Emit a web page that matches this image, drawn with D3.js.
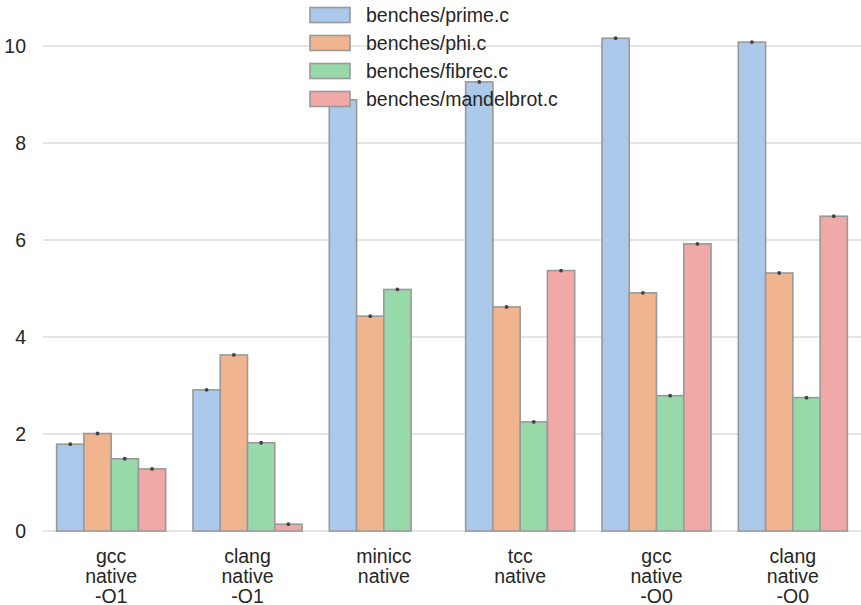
<!DOCTYPE html>
<html>
<head>
<meta charset="utf-8">
<script src="https://cdn.jsdelivr.net/npm/d3@7"></script>
<style>
  body { margin: 0; background: #fff; }
  text { font-family: "Liberation Sans", Arial, sans-serif; fill: #262626; }
</style>
</head>
<body>
<svg width="861" height="605"></svg>
<script>
// compilers / configs on the x axis
var groups = ["gcc\nnative\n-O1", "clang\nnative\n-O1", "minicc\nnative", "tcc\nnative", "gcc\nnative\n-O0", "clang\nnative\n-O0"];
var benches = ["benches/prime.c", "benches/phi.c", "benches/fibrec.c", "benches/mandelbrot.c"];
var colors = ["#abc9eb", "#f0b48e", "#97d9a8", "#f0a9a7"];

// runtime per bench, one value per group (null = missing)
var prime      = [1.79, 2.91, 8.89, 9.26, 10.16, 10.08];
var phi        = [2.01, 3.63, 4.43, 4.62, 4.91, 5.32];
var fibrec     = [1.49, 1.82, 4.98, 2.25, 2.79, 2.75];
var mandelbrot = [1.28, 0.14, null, 5.37, 5.92, 6.49];
var yTicks = [0, 2, 4, 6, 8, 10];

var series = [prime, phi, fibrec, mandelbrot];

var svg = d3.select("svg"),
    width = +svg.attr("width"),
    height = +svg.attr("height"),
    margin = {top: 46, right: 0, bottom: 74, left: 43},
    fs = "19.5px";

var x = d3.scaleBand().domain(groups).range([margin.left, width - margin.right]).paddingInner(0.2).paddingOuter(0.1),
    x1 = d3.scaleBand().domain(benches).range([0, x.bandwidth()]),
    y = d3.scaleLinear().domain([0, 10]).range([height - margin.bottom, margin.top]);

// grid
svg.append("g")
  .selectAll("line")
  .data(yTicks)
  .enter().append("line")
    .attr("x1", margin.left)
    .attr("x2", width)
    .attr("y1", function(d) { return y(d); })
    .attr("y2", function(d) { return y(d); })
    .attr("stroke", "#cccccc")
    .attr("stroke-width", 1.2);

// y labels
svg.append("g")
  .selectAll("text")
  .data(yTicks)
  .enter().append("text")
    .attr("x", 26)
    .attr("y", function(d) { return y(d); })
    .attr("dy", "0.35em")
    .attr("text-anchor", "end")
    .style("font-size", fs)
    .text(function(d) { return d; });

// bars
var rows = [];
series.forEach(function(s, i) {
  s.forEach(function(v, j) {
    if (v != null) rows.push({group: groups[j], bench: benches[i], i: i, value: v});
  });
});

svg.append("g")
  .selectAll("rect")
  .data(rows)
  .enter().append("rect")
    .attr("x", function(d) { return x(d.group) + x1(d.bench); })
    .attr("y", function(d) { return y(d.value); })
    .attr("width", x1.bandwidth())
    .attr("height", function(d) { return y(0) - y(d.value); })
    .attr("fill", function(d) { return colors[d.i]; })
    .attr("stroke", "#999999")
    .attr("stroke-width", 1.6);

// tiny error bars
svg.append("g")
  .selectAll("circle")
  .data(rows)
  .enter().append("circle")
    .attr("cx", function(d) { return x(d.group) + x1(d.bench) + x1.bandwidth() / 2; })
    .attr("cy", function(d) { return y(d.value); })
    .attr("r", 1.9)
    .attr("fill", "#424242");

// x labels
var xl = svg.append("g")
  .selectAll("text")
  .data(groups)
  .enter().append("text")
    .attr("text-anchor", "middle")
    .style("font-size", fs)
    .attr("transform", function(d) { return "translate(" + (x(d) + x.bandwidth() / 2) + ",563)"; });

xl.selectAll("tspan")
  .data(function(d) { return d.split("\n"); })
  .enter().append("tspan")
    .attr("x", 0)
    .attr("y", function(d, i) { return i * 20; })
    .text(function(d) { return d; });

// legend, no frame
var leg = svg.append("g")
  .selectAll("g")
  .data(benches)
  .enter().append("g")
    .attr("transform", function(d, i) { return "translate(310," + (15 + i * 28) + ")"; });

leg.append("rect")
    .attr("x", 0)
    .attr("y", -7.5)
    .attr("width", 40)
    .attr("height", 15)
    .attr("fill", function(d, i) { return colors[i]; })
    .attr("stroke", "#999999")
    .attr("stroke-width", 1.6);

leg.append("text")
    .attr("x", 56)
    .attr("dy", "0.35em")
    .style("font-size", fs)
    .text(function(d) { return d; });
</script>
</body>
</html>
